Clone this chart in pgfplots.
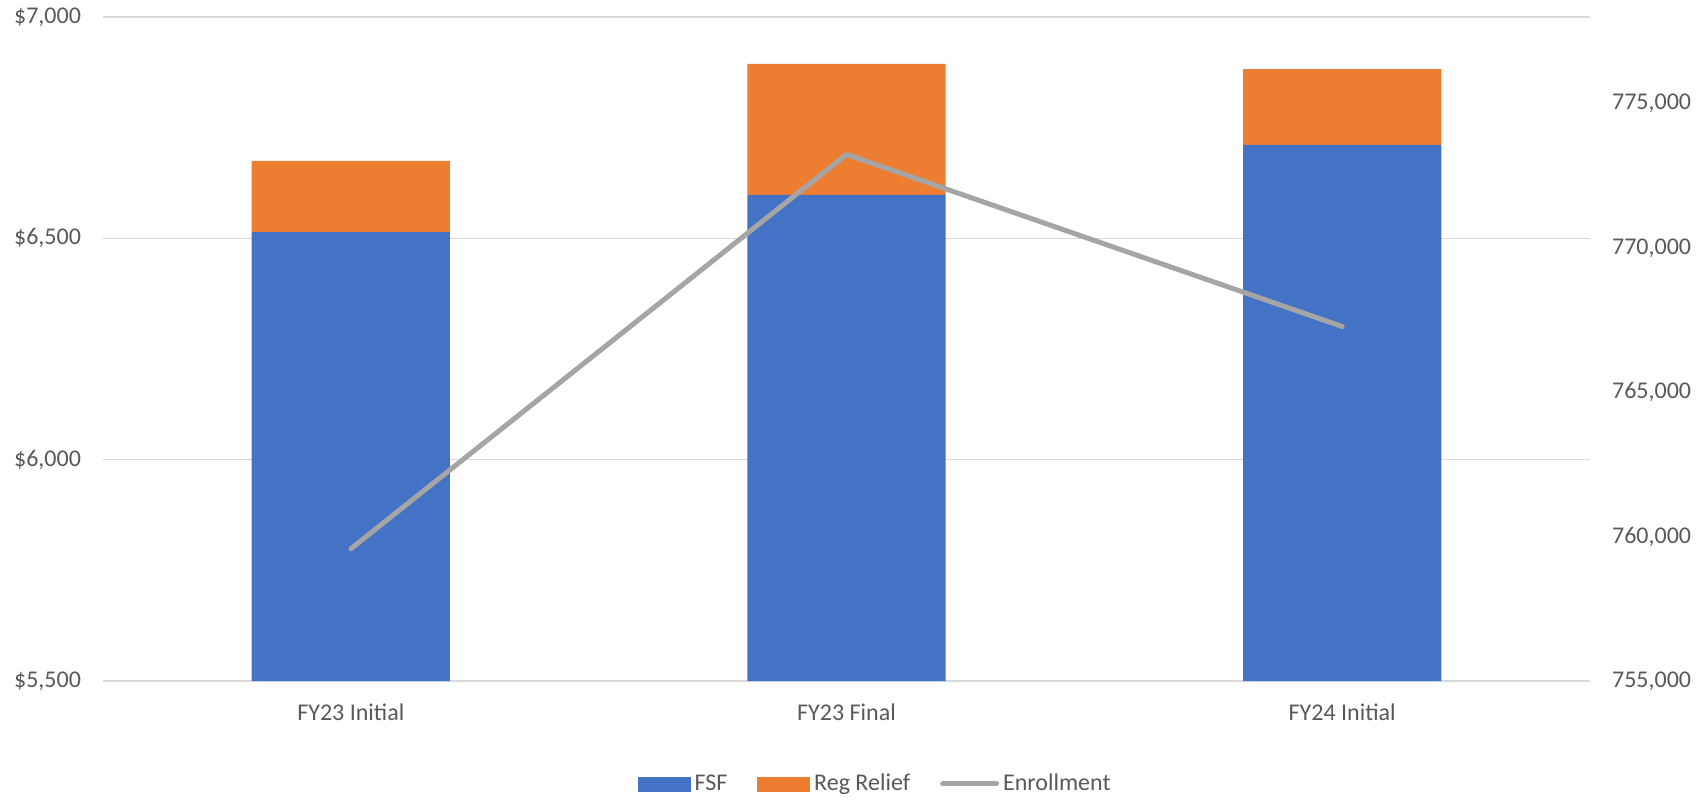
\documentclass[border=0pt]{standalone}
\usepackage{pgfplots}
\pgfplotsset{compat=1.18}
\usepackage{fontspec}
\setmainfont{Carlito}
\definecolor{fsf}{HTML}{4472C4}
\definecolor{reg}{HTML}{ED7D31}
\definecolor{enr}{HTML}{A5A5A5}
\definecolor{gridc}{HTML}{D9D9D9}
\definecolor{txt}{HTML}{595959}

\begin{document}
\begin{tikzpicture}
\pgfplotsset{
  every axis/.append style={
    scale only axis, width=743.5pt, height=332pt,
    xmin=-0.5, xmax=2.5,
    axis line style={draw=none},
    major tick length=0pt,
    tick label style={font=\fontsize{12}{14}\selectfont, text=txt},
    /pgf/number format/assume math mode=true,
  }
}
% left axis: stacked bars
\begin{axis}[name=ax,
  ybar stacked, bar width=0.4,
  ymin=5500, ymax=7000,
  ytick={5500,6000,6500,7000},
  yticklabels={{\$5,500},{\$6,000},{\$6,500},{\$7,000}},
  yticklabel style={xshift=-7.5pt},
  ymajorgrids, grid style={gridc, line width=0.8pt},
  xtick={0,1,2},
  xticklabels={FY23 Initial, FY23 Final, FY24 Initial},
  xticklabel style={yshift=-8pt},
]
\addplot[fill=fsf, draw=none] coordinates {(0,6514) (1,6598) (2,6711)};
\addplot[fill=reg, draw=none] coordinates {(0,161) (1,296) (2,171)};
\end{axis}
% right axis: enrollment
\begin{axis}[
  ymin=755000, ymax=778000,
  axis y line*=right, axis x line=none,
  ytick={755000,760000,765000,770000,775000},
  yticklabels={{755,000},{760,000},{765,000},{770,000},{775,000}},
  scaled y ticks=false,
  yticklabel style={xshift=7.5pt},
  legend style={at={(0.52,-0.155)}, anchor=center, draw=none, fill=none,
    legend columns=3, font=\fontsize{12}{14}\selectfont, text=txt,
    /tikz/every even column/.append style={column sep=13pt}},
]
\addlegendimage{legend image code/.code={\fill[fsf] (0pt,-3.5pt) rectangle (26pt,3.5pt);}}
\addlegendentry{FSF}
\addlegendimage{legend image code/.code={\fill[reg] (0pt,-3.5pt) rectangle (26pt,3.5pt);}}
\addlegendentry{Reg Relief}
\addplot[enr, line width=2.5pt, line cap=round, line join=round,
  legend image code/.code={\draw[enr, line width=2.5pt, line cap=round] (0pt,0pt) -- (27pt,0pt);}]
  coordinates {(0,759580) (1,773240) (2,767280)};
\addlegendentry{Enrollment}
\end{axis}
\path ([shift={(-51.5pt,-57pt)}]ax.south west) rectangle ([shift={(54pt,8.5pt)}]ax.north east);
\end{tikzpicture}
\end{document}
